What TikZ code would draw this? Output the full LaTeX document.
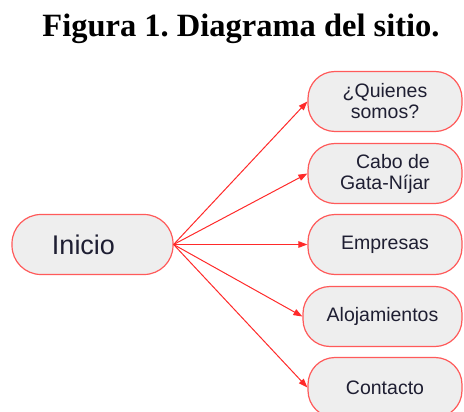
\documentclass[tikz,border=0pt]{standalone}
\usepackage{fontspec}
\setmainfont{Liberation Serif}
\newfontfamily\boxfont{Liberation Sans}
\usetikzlibrary{arrows.meta}
\definecolor{boxfill}{HTML}{EEEEEE}
\definecolor{boxline}{HTML}{FF5A5A}
\definecolor{arrowred}{HTML}{FF2A2A}
\definecolor{txt}{HTML}{1E1E32}
\frenchspacing
\begin{document}
\begin{tikzpicture}[x=1pt,y=-1pt,
  pill/.style={draw=boxline, line width=1.2pt, fill=boxfill, rounded corners=27pt,
    minimum height=60pt, inner sep=0pt, align=center, text=txt,
    font=\boxfont\fontsize{19.5}{21}\selectfont},
  link/.style={draw=arrowred, line width=1pt, -{Triangle[length=9pt,width=6.5pt]}}]
\useasboundingbox (0,0) rectangle (464,412);
\clip (0,0) rectangle (464,412);
\node[font=\bfseries\fontsize{32.5}{34}\selectfont, anchor=base] (title) at (241,37) {Figura 1. Diagrama del sitio.};
\node[pill, minimum width=161pt, rounded corners=29pt, font=\boxfont\fontsize{27}{30}\selectfont] (inicio) at (92.5,244.5) {Inicio\hspace{18pt}};
\node[pill, minimum width=154pt] (quien) at (385,101.5) {¿Quienes\\somos?};
\node[pill, minimum width=154pt] (cabo) at (385,173.5) {\hspace{16pt}Cabo de\\Gata-Níjar};
\node[pill, minimum width=154pt] (emp) at (385,244.5) {Empresas};
\node[pill, minimum width=159pt] (aloj) at (382.5,316.5) {Alojamientos};
\node[pill, minimum width=154pt] (cont) at (385,387.5) {Contacto};
\foreach \t in {quien,cabo,emp,aloj,cont}
  \draw[link] (inicio.east) -- (\t.west);
\end{tikzpicture}
\end{document}
